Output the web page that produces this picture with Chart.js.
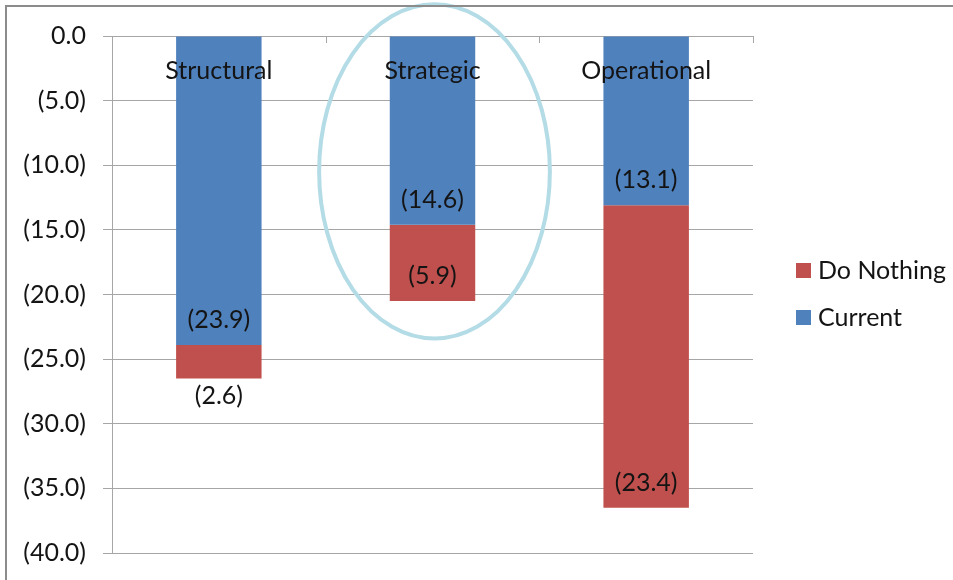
<!DOCTYPE html>
<html>
<head>
<meta charset="utf-8">
<script src="https://cdn.jsdelivr.net/npm/chart.js@4"></script>
<style>
  html, body { margin: 0; padding: 0; background: #ffffff; }
  #wrap { position: relative; width: 953px; height: 580px; }
  #frame { position: absolute; left: 5px; top: 5px; width: 960px; height: 600px; border-left: 2px solid #8c8c8c; border-top: 2px solid #8c8c8c; box-sizing: border-box; pointer-events: none; }
  canvas { position: absolute; left: 0; top: 0; }
</style>
</head>
<body>
<div id="wrap">
  <canvas id="c" width="953" height="580"></canvas>
  <div id="frame"></div>
</div>
<script>
// ---- Data ----
const categories = ['Structural', 'Strategic', 'Operational'];
const currentValues = [-23.9, -14.6, -13.1];
const doNothingValues = [-2.6, -5.9, -23.4];
const seriesNames = ['Current', 'Do Nothing'];
const legendOrder = ['Do Nothing', 'Current'];
const yTicks = { min: -40, max: 0, step: 5 };
const highlightCategory = 'Strategic';

// ---- Styles ----
const FONT = 'Lato, "Noto Sans", sans-serif';
const FSIZE = 25;
const TEXT = '#141414';
const BLUE = '#4F81BD';
const RED = '#C0504D';
const GRID = '#a6a6a6';

function fmt(v) {
  if (v === 0) return '0.0';
  return v < 0 ? '(' + Math.abs(v).toFixed(1) + ')' : v.toFixed(1);
}

const overlayPlugin = {
  id: 'overlay',
  afterDatasetsDraw(chart) {
    const ctx = chart.ctx;
    const xs = chart.scales.x, ys = chart.scales.y;
    const area = chart.chartArea;
    ctx.save();
    // category tick marks on the zero line (pointing down)
    ctx.strokeStyle = GRID;
    ctx.lineWidth = 1;
    const catW = (area.right - area.left) / categories.length;
    for (let i = 0; i <= categories.length; i++) {
      const x = Math.round(area.left + i * catW) + 0.5;
      const y0 = ys.getPixelForValue(0);
      ctx.beginPath();
      ctx.moveTo(x, y0);
      ctx.lineTo(x, y0 + 7);
      ctx.stroke();
    }
    // data labels
    ctx.font = FSIZE + 'px ' + FONT;
    ctx.fillStyle = TEXT;
    ctx.textAlign = 'center';
    ctx.textBaseline = 'middle';
    chart.data.datasets.forEach((ds, di) => {
      const meta = chart.getDatasetMeta(di);
      meta.data.forEach((bar, i) => {
        const v = ds.data[i];
        const h = Math.abs(bar.y - bar.base);
        let y;
        if (h < 50) y = bar.y + 17; else y = bar.y - 25;
        ctx.fillText(fmt(v), bar.x, y);
      });
    });
    // category labels inside plot near top
    categories.forEach((c, i) => {
      const x = xs.getPixelForValue(i);
      ctx.fillText(c, x, ys.getPixelForValue(0) + 35);
    });
    // highlight ellipse around Strategic
    const hi = categories.indexOf(highlightCategory);
    const cx = xs.getPixelForValue(hi) + 2;
    const yTop = ys.getPixelForValue(2.45);
    const yBot = ys.getPixelForValue(-23.4);
    ctx.beginPath();
    ctx.ellipse(cx, (yTop + yBot) / 2, catW * 0.54, (yBot - yTop) / 2, 0, 0, Math.PI * 2);
    ctx.strokeStyle = '#B4DCE6';
    ctx.lineWidth = 4;
    ctx.stroke();
    // legend
    const lx = 796, ly = [271, 318];
    legendOrder.forEach((name, k) => {
      const ds = chart.data.datasets.find(d => d.label === name);
      ctx.fillStyle = ds.backgroundColor;
      ctx.fillRect(lx, ly[k] - 8, 15, 15);
      ctx.fillStyle = TEXT;
      ctx.textAlign = 'left';
      ctx.fillText(name, lx + 22, ly[k]);
    });
    ctx.restore();
  }
};

new Chart(document.getElementById('c'), {
  type: 'bar',
  data: {
    labels: categories,
    datasets: [
      { label: seriesNames[0], data: currentValues, backgroundColor: BLUE, barPercentage: 0.4, categoryPercentage: 1.0 },
      { label: seriesNames[1], data: doNothingValues, backgroundColor: RED, barPercentage: 0.4, categoryPercentage: 1.0 }
    ]
  },
  options: {
    responsive: false,
    animation: false,
    devicePixelRatio: 1,
    layout: { padding: { left: 0, right: 200, top: 36, bottom: 27 } },
    plugins: { legend: { display: false }, tooltip: { enabled: false } },
    scales: {
      x: { stacked: true, display: false },
      y: {
        stacked: true,
        min: yTicks.min, max: yTicks.max,
        afterFit(scale) { scale.width = 112; scale.paddingTop = 0; scale.paddingBottom = 0; },
        ticks: {
          stepSize: yTicks.step,
          callback: (v) => fmt(v),
          font: { family: FONT, size: FSIZE },
          color: TEXT,
          padding: 17
        },
        grid: { color: GRID, lineWidth: 1, tickLength: 9 },
        border: { color: GRID, width: 1 }
      }
    }
  },
  plugins: [overlayPlugin]
});
</script>
</body>
</html>
